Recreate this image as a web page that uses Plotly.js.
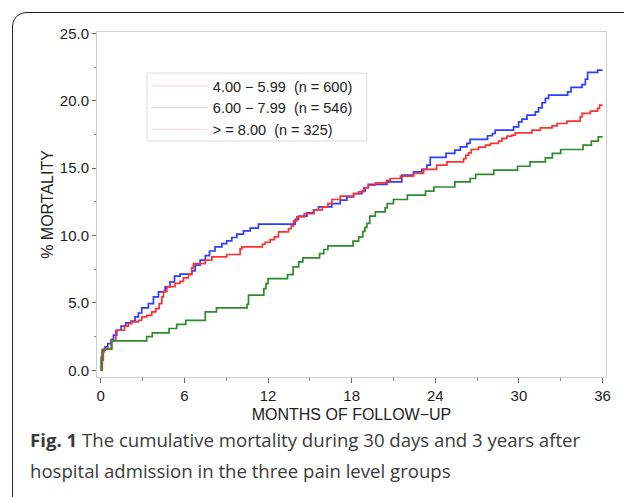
<!DOCTYPE html>
<html>
<head>
<meta charset="utf-8">
<script src="https://cdn.plot.ly/plotly-3.0.1.min.js"></script>
<style>
  html, body { margin: 0; padding: 0; width: 624px; height: 497px; overflow: hidden; background: #fff; }
  #frame { position: absolute; left: 12px; top: 12px; width: 700px; height: 600px; border: 1.5px solid #222; border-radius: 14px; }
  #chart { position: absolute; left: 0; top: 0; width: 624px; height: 497px; }
</style>
</head>
<body>
<div id="frame"></div>
<div id="chart"></div>
<script>
// Series names (legend)
const seriesNames = ["4.00 \u2212 5.99\u00a0\u00a0(n = 600)", "6.00 \u2212 7.99\u00a0\u00a0(n = 546)", "> = 8.00\u00a0\u00a0(n = 325)"];

// Blue curve (months, % mortality)
const blueX = [0, 0.05, 0.12, 0.31, 0.5, 0.74, 0.91, 1.15, 1.46, 1.79, 2.17, 2.46, 2.7, 2.94, 3.42, 3.78, 4.14, 4.62, 4.97, 5.29, 5.69, 6.53, 6.77, 7.13, 7.5, 7.8, 8.2, 8.69, 9.04, 9.4, 9.76, 10.24, 10.72, 11.31, 13.95, 14.19, 14.79, 15.26, 15.62, 16.58, 17.18, 17.66, 18.14, 18.74, 18.97, 19.2, 20.53, 21.6, 22.44, 23.04, 23.4, 23.64, 24.77, 25.4, 25.8, 26.27, 26.5, 27.75, 28.1, 28.3, 29.62, 29.98, 30.22, 30.58, 31.18, 31.41, 31.66, 31.9, 32.13, 33.5, 33.74, 34.53, 34.77, 34.93, 35.65, 36.0];
const blueY = [0, 0.8, 1.5, 1.73, 1.98, 2.28, 2.6, 2.97, 3.27, 3.51, 3.64, 3.96, 4.25, 4.63, 4.95, 5.44, 5.81, 6.19, 6.56, 6.98, 7.13, 7.37, 7.8, 8.17, 8.5, 8.85, 9.15, 9.4, 9.6, 9.85, 10.1, 10.35, 10.55, 10.85, 11.2, 11.43, 11.68, 11.9, 12.12, 12.37, 12.62, 12.87, 13.11, 13.3, 13.56, 13.8, 13.98, 14.48, 14.72, 14.9, 15.22, 15.79, 16.09, 16.33, 16.58, 16.83, 17.13, 17.4, 17.57, 17.82, 18.06, 18.43, 18.63, 18.93, 19.18, 19.47, 19.85, 20.17, 20.42, 20.66, 20.99, 21.2, 21.6, 22.1, 22.27, 22.27];

// Red curve
const redX = [0, 0.1, 0.18, 0.26, 0.75, 1.08, 1.7, 1.98, 2.22, 2.7, 2.94, 3.3, 3.66, 3.95, 4.19, 4.38, 4.5, 4.74, 5.33, 5.69, 5.93, 6.29, 6.53, 6.65, 7.49, 7.97, 9.04, 10.0, 10.12, 11.6, 11.8, 12.15, 12.46, 12.75, 13.47, 13.66, 13.83, 14.07, 14.6, 15.3, 15.9, 16.3, 16.58, 17.18, 18.14, 18.5, 18.86, 19.2, 19.7, 20.5, 20.77, 21.5, 22.44, 23.16, 24.1, 24.84, 26.03, 26.2, 26.39, 26.58, 27.1, 27.6, 27.95, 28.54, 28.78, 29.14, 29.5, 29.74, 30.94, 31.54, 32.38, 32.74, 33.45, 34.4, 34.53, 35.13, 35.65, 35.79, 36.0];
const redY = [0, 0.74, 1.36, 1.61, 2.2, 2.97, 3.27, 3.46, 3.59, 3.71, 3.96, 4.08, 4.33, 4.58, 4.95, 5.44, 5.85, 6.2, 6.45, 6.6, 6.85, 7.1, 7.6, 7.92, 8.17, 8.41, 8.59, 9.0, 9.15, 9.35, 9.5, 9.7, 9.9, 10.27, 10.5, 10.69, 11.08, 11.38, 11.63, 11.9, 12.12, 12.37, 12.67, 12.92, 13.11, 13.24, 13.53, 13.73, 13.9, 14.1, 14.23, 14.4, 14.6, 14.9, 15.22, 15.46, 15.71, 15.96, 16.13, 16.38, 16.55, 16.7, 16.83, 17.0, 17.2, 17.37, 17.45, 17.62, 17.82, 17.99, 18.14, 18.31, 18.49, 18.8, 19.06, 19.23, 19.43, 19.67, 19.67];

// Green curve
const greenX = [0, 0.03, 0.1, 0.8, 3.3, 3.7, 4.9, 5.45, 6.1, 7.5, 8.3, 10.5, 10.6, 11.7, 11.85, 12.0, 13.4, 13.8, 14.2, 14.5, 15.7, 16.0, 16.3, 18.1, 18.5, 18.8, 18.95, 19.1, 19.3, 19.7, 20.4, 20.55, 21.0, 22.0, 23.3, 23.9, 25.4, 26.5, 26.9, 28.2, 29.9, 30.8, 31.9, 32.4, 33.0, 34.6, 35.2, 35.7, 36.0];
const greenY = [0, 1.0, 1.56, 2.18, 2.5, 2.77, 3.1, 3.4, 3.7, 4.33, 4.63, 4.9, 5.57, 6.06, 6.43, 6.8, 7.1, 7.67, 8.04, 8.34, 8.66, 8.96, 9.23, 9.58, 9.9, 10.3, 10.6, 10.9, 11.43, 11.75, 12.05, 12.37, 12.67, 12.99, 13.29, 13.6, 13.98, 14.23, 14.53, 14.85, 15.14, 15.46, 15.76, 16.09, 16.38, 16.7, 17.0, 17.32, 17.32];

const xTicks = [0, 6, 12, 18, 24, 30, 36];
const yTicks = [0, 5, 10, 15, 20, 25];

const baseFam = "Liberation Sans, Arial, sans-serif";
const tickFont = { family: baseFam, size: 15, color: "#222" };
const titleFont = { family: baseFam, size: 16, color: "#222" };
const legFont = { family: baseFam, size: 14.5, color: "#222" };
const capFont = { family: "Open Sans, Noto Sans, sans-serif", size: 18.6, color: "#3a3a3a" };

const traces = [
  { x: blueX, y: blueY, mode: "lines", line: { shape: "hv", color: "#2b3dff", width: 1.7 }, showlegend: false, hoverinfo: "skip" },
  { x: redX, y: redY, mode: "lines", line: { shape: "hv", color: "#ff3030", width: 1.7 }, showlegend: false, hoverinfo: "skip" },
  { x: greenX, y: greenY, mode: "lines", line: { shape: "hv", color: "#2e8b2e", width: 1.7 }, showlegend: false, hoverinfo: "skip" },
  { x: [null], y: [null], mode: "lines", name: seriesNames[0], line: { color: "#f7d3d3", width: 1 } },
  { x: [null], y: [null], mode: "lines", name: seriesNames[1], line: { color: "#d3d8f7", width: 1 } },
  { x: [null], y: [null], mode: "lines", name: seriesNames[2], line: { color: "#f2dcdc", width: 1 } }
];

const layout = {
  width: 624, height: 497,
  margin: { l: 97, r: 18, t: 32, b: 120 },
  paper_bgcolor: "rgba(0,0,0,0)",
  plot_bgcolor: "rgba(0,0,0,0)",
  font: tickFont,
  showlegend: true,
  legend: {
    x: 0.096, y: 0.89, xanchor: "left", yanchor: "top",
    borderwidth: 0, bgcolor: "rgba(255,255,255,0)",
    font: legFont, itemwidth: 57, tracegroupgap: 0
  },
  shapes: [
    { type: "rect", xref: "paper", yref: "paper", x0: 0.0982, x1: 0.530, y0: 0.684, y1: 0.881,
      line: { color: "#dcdcdc", width: 1 }, fillcolor: "rgba(0,0,0,0)", layer: "below" }
  ],
  xaxis: {
    range: [-0.27, 36.25], tickvals: xTicks, ticktext: xTicks.map(String),
    showgrid: false, zeroline: false, showline: true, mirror: true, linecolor: "#cfcfcf", linewidth: 1,
    ticks: "outside", ticklen: 5, tickcolor: "#666", tickfont: tickFont,
    minor: { dtick: 3, ticks: "outside", ticklen: 3, tickcolor: "#888", showgrid: false },
    title: { text: "MONTHS OF FOLLOW\u2212UP", font: titleFont, standoff: 5 }
  },
  yaxis: {
    range: [-0.5, 25.1], tickvals: yTicks, ticktext: yTicks.map(v => v.toFixed(1)),
    showgrid: false, zeroline: false, showline: true, mirror: true, linecolor: "#cfcfcf", linewidth: 1,
    ticks: "outside", ticklen: 4, tickcolor: "#666", tickfont: tickFont,
    minor: { dtick: 2.5, ticks: "outside", ticklen: 2, tickcolor: "#888", showgrid: false },
    title: { text: "% MORTALITY", font: titleFont, standoff: 2 }
  },
  annotations: [
    { xref: "paper", yref: "paper", x: -0.1356, y: -0.182, xanchor: "left", yanchor: "middle", showarrow: false, align: "left",
      text: "<b>Fig. 1</b> The cumulative mortality during 30 days and 3 years after", font: capFont },
    { xref: "paper", yref: "paper", x: -0.1356, y: -0.27, xanchor: "left", yanchor: "middle", showarrow: false, align: "left",
      text: "hospital admission in the three pain level groups", font: capFont }
  ]
};

Plotly.newPlot("chart", traces, layout, { displayModeBar: false, staticPlot: true });
</script>
</body>
</html>
